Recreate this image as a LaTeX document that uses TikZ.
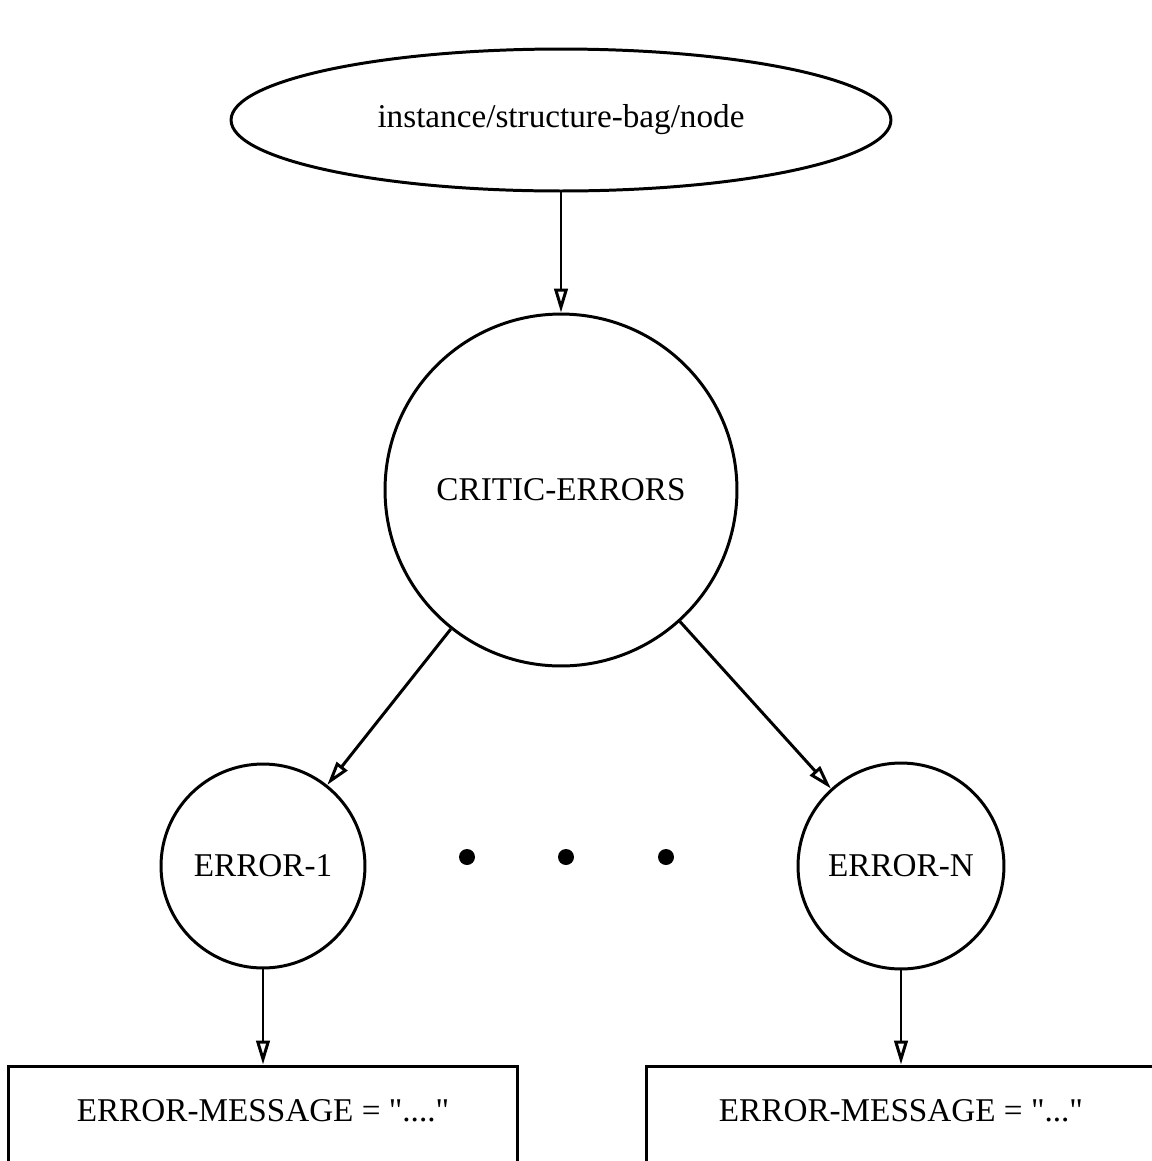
\documentclass[tikz,border=0pt]{standalone}
\usepackage{fontspec}
\setmainfont{Liberation Serif}[Ligatures=TeXOff]
\usepackage{tikz}
\usetikzlibrary{shapes.geometric}
\usetikzlibrary{arrows.meta}

\begin{document}
\begin{tikzpicture}[x=0.02cm,y=-0.02cm,line width=1.7pt,
    every node/.style={font=\fontsize{18.9}{22}\selectfont},
    link/.style={-{Triangle[open,length=0.48cm,width=0.27cm]}}]
            \useasboundingbox (0,0) rectangle (1152,1161);
            \clip (0,0) rectangle (1152,1161);

            % Place the top node and the critic node
            \node[ellipse,draw=black,inner sep=0pt,minimum width=13.2cm,minimum height=2.84cm] (bag) at (561,120) {instance/structure-bag/node};
            \node[circle,draw=black,minimum size=7.04cm] (critic) at (561,490) {CRITIC-ERRORS};

            % Place the error nodes
            \node[circle,draw=black,minimum size=4.08cm] (e1) at (263,866) {ERROR-1};
            \node[circle,draw=black,minimum size=4.12cm] (en) at (901,866) {ERROR-N};
            \node[circle,fill=black,inner sep=0pt,minimum size=0.32cm] (d1) at (467,857) {};
            \node[circle,fill=black,inner sep=0pt,minimum size=0.32cm] (d2) at (566,857) {};
            \node[circle,fill=black,inner sep=0pt,minimum size=0.32cm] (d3) at (666,857) {};

            % The message boxes run off the page
            \node[draw=black,minimum width=10.2cm,minimum height=2.08cm,text height=0.44cm,text depth=0.3cm] (m1) at (263,1118) {ERROR-MESSAGE = "...."\hspace{0.2cm}};
            \node[draw=black,minimum width=10.2cm,minimum height=2.08cm,text height=0.44cm,text depth=0.3cm] (mn) at (901,1118) {ERROR-MESSAGE = "..."\hspace{0.2cm}};

            % The arrows!
            \draw[link] (bag) -- (critic);
            \draw[link] (critic) -- (e1);
            \draw[link] (critic) -- (en);
            \draw[link] (e1) -- (m1);
            \draw[link] (en) -- (mn);
        \end{tikzpicture}
\end{document}
